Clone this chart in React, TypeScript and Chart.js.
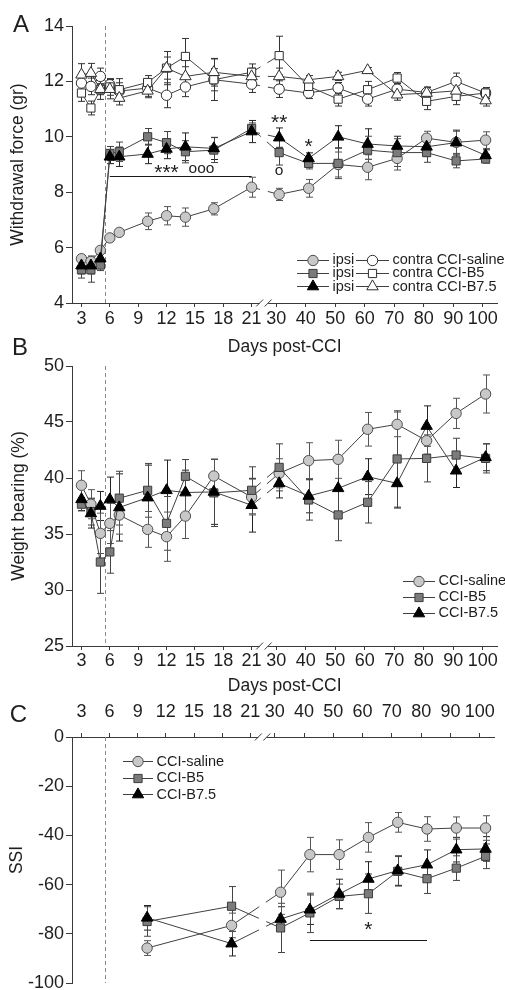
import React, { useEffect, useRef } from 'react';
import { Chart, registerables } from 'chart.js';

Chart.register(...registerables);

const FONT = "'Liberation Sans', Arial, Helvetica, sans-serif";
const TEXT = '#1e1e1e';
const AXIS = '#3a3a3a';
const LINE = '#404040';

// ---------------- data ----------------
const DAYS_AB = [3, 4, 5, 6, 7, 10, 12, 14, 17, 21, 31, 41, 51, 61, 71, 81, 91, 101];
const DAYS_C = [10, 19, 32, 42, 52, 62, 72, 82, 92, 102];
const TICK_DAYS = [3, 6, 9, 12, 15, 18, 21, 30, 40, 50, 60, 70, 80, 90, 100];
const CCI_DAY = 5.5;

// Panel A: withdrawal force (gr)
const A_IPSI_SALINE = [5.6, 5.5, 5.9, 6.35, 6.55, 6.95, 7.15, 7.1, 7.4, 8.18, 7.92, 8.14, 9.0, 8.9, 9.22, 9.95, 9.8, 9.88];
const A_IPSI_SALINE_ERR = [0.12, 0.2, 0.12, 0.12, 0.1, 0.3, 0.33, 0.33, 0.22, 0.36, 0.22, 0.32, 0.45, 0.45, 0.42, 0.25, 0.4, 0.3];
const A_IPSI_B5 = [5.2, 5.2, 5.37, 9.4, 9.46, 10.0, 9.79, 9.46, 9.52, 10.3, 9.43, 9.04, 9.04, 9.52, 9.43, 9.43, 9.13, 9.2];
const A_IPSI_B5_ERR = [0.3, 0.45, 0.2, 0.25, 0.35, 0.3, 0.4, 0.4, 0.45, 0.2, 0.45, 0.2, 0.55, 0.5, 0.5, 0.35, 0.25, 0.15];
const A_IPSI_B75 = [5.35, 5.35, 5.6, 9.28, 9.28, 9.38, 9.56, 9.64, 9.58, 10.19, 9.97, 9.22, 10.0, 9.74, 9.67, 9.64, 9.79, 9.33];
const A_IPSI_B75_ERR = [0.3, 0.3, 0.3, 0.25, 0.35, 0.35, 0.35, 0.5, 0.4, 0.4, 0.35, 0.2, 0.4, 0.55, 0.35, 0.35, 0.45, 0.2];
const A_CONTRA_SALINE = [11.94, 11.82, 12.18, 11.88, 11.65, 11.76, 11.5, 11.8, 12.06, 11.9, 11.72, 11.58, 11.76, 11.36, 11.72, 11.6, 12.0, 11.58];
const A_CONTRA_SALINE_ERR = [0.3, 0.3, 0.3, 0.2, 0.3, 0.3, 0.45, 0.35, 0.4, 0.3, 0.3, 0.2, 0.2, 0.25, 0.2, 0.2, 0.3, 0.2];
const A_CONTRA_B5 = [11.58, 11.04, 11.7, 11.8, 11.7, 11.96, 12.48, 12.9, 12.06, 12.33, 12.93, 11.82, 11.36, 11.7, 12.12, 11.28, 11.46, 11.58];
const A_CONTRA_B5_ERR = [0.3, 0.25, 0.35, 0.3, 0.4, 0.25, 0.4, 0.65, 0.75, 0.3, 0.7, 0.2, 0.25, 0.3, 0.2, 0.3, 0.3, 0.1];
const A_CONTRA_B75 = [12.24, 12.3, 11.72, 11.72, 11.4, 11.66, 12.48, 12.18, 12.33, 12.18, 12.18, 12.06, 12.18, 12.4, 11.52, 11.58, 11.66, 11.31];
const A_CONTRA_B75_ERR = [0.4, 0.35, 0.2, 0.35, 0.25, 0.25, 0.6, 0.35, 0.5, 0.3, 0.3, 0.15, 0.15, 0.1, 0.2, 0.2, 0.2, 0.2];

// Panel B: weight bearing (%)
const B_SALINE = [39.35, 37.66, 35.06, 35.95, 36.69, 35.41, 34.76, 36.6, 40.18, 38.3, 40.42, 41.55, 41.67, 44.35, 44.79, 43.33, 45.77, 47.5];
const B_SALINE_ERR = [1.3, 1.3, 1.8, 1.8, 1.7, 1.6, 2.2, 2.0, 1.5, 1.6, 1.3, 1.6, 1.7, 1.5, 1.1, 1.2, 1.35, 1.7];
const B_B5 = [37.66, 37.0, 32.5, 33.4, 38.2, 38.9, 35.95, 40.15, 38.67, 38.9, 40.95, 38.04, 36.7, 37.83, 41.7, 41.75, 42.05, 41.75];
const B_B5_ERR = [0.6, 1.2, 2.8, 1.9, 2.4, 2.4, 2.4, 1.5, 3.0, 2.1, 2.1, 1.8, 2.3, 1.85, 4.3, 2.1, 1.5, 1.3];
const B_B75 = [38.1, 36.83, 37.5, 38.08, 37.37, 38.25, 38.9, 38.7, 38.76, 37.57, 39.52, 38.39, 39.08, 40.12, 39.52, 44.64, 40.65, 41.85];
const B_B75_ERR = [1.0, 1.3, 1.3, 2.0, 3.0, 2.9, 2.7, 2.0, 2.9, 2.4, 1.3, 1.5, 2.5, 1.6, 2.2, 1.8, 1.5, 1.2];

// Panel C: SSI
const C_SALINE = [-85.8, -76.6, -63.1, -47.8, -47.8, -40.8, -34.7, -37.4, -37.0, -37.0];
const C_SALINE_ERR = [3, 5, 9, 7, 6, 6, 4, 5, 4.5, 5];
const C_B5 = [-75, -68.8, -77.6, -71.5, -64.8, -63.7, -54.6, -57.6, -53.3, -48.5];
const C_B5_ERR = [6, 8, 10, 8, 5, 8, 6, 6, 5, 5];
const C_B75 = [-73.5, -84, -74, -70.2, -63.8, -57.7, -54.3, -51.9, -45.8, -45.5];
const C_B75_ERR = [5, 5, 5, 6, 6, 7, 6, 6, 5, 5];

// ---------------- broken x axis mapping ----------------
const BREAK_MID = 22.3;
function xPos(d: number): number {
  return d <= BREAK_MID ? d : 23.6 + (d - 30) * 0.312;
}

// ---------------- styles ----------------
type Shape = 'circle' | 'rect' | 'triangle';
type MStyle = { shape: Shape; r: number; fill: string; stroke: string; err: string };
const S_SALINE: MStyle = { shape: 'circle', r: 5.2, fill: '#c8c8c8', stroke: '#4e4e4e', err: '#555' };
const S_B5: MStyle = { shape: 'rect', r: 5.8, fill: '#7b7b7b', stroke: '#3c3c3c', err: '#444' };
const S_B75: MStyle = { shape: 'triangle', r: 6.6, fill: '#000000', stroke: '#000000', err: '#222' };
const S_SALINE_C: MStyle = { shape: 'circle', r: 5.2, fill: '#ffffff', stroke: '#2e2e2e', err: '#333' };
const S_B5_C: MStyle = { shape: 'rect', r: 5.8, fill: '#ffffff', stroke: '#2e2e2e', err: '#333' };
const S_B75_C: MStyle = { shape: 'triangle', r: 6.6, fill: '#ffffff', stroke: '#2e2e2e', err: '#333' };

type Series = { label: string; days: number[]; values: number[]; errors: number[]; style: MStyle };
type Note =
  | { kind: 'text'; text: string; day: number; value: number; size: number }
  | { kind: 'line'; day0: number; day1: number; value: number };
type LegendItem = { style: MStyle; label: string; x0: number; x1: number; y: number };

type Panel = {
  top: number;
  height: number;
  padTop: number;
  padBottom: number;
  xSide: 'top' | 'bottom';
  xHeight: number;
  xTickPad: number;
  xTitle: string | null;
  xTitlePad: number;
  yMin: number;
  yMax: number;
  yStep: number;
  yTitle: string;
  yTitlePad: number;
  letter: string;
  letterX: number;
  letterY: number;
  series: Series[];
  legend: LegendItem[];
  notes: Note[];
};

const legendRows = (items: [MStyle, string][], x0: number, x1: number, y0: number, dy: number): LegendItem[] =>
  items.map(([style, label], i) => ({ style, label, x0, x1, y: y0 + i * dy }));

const PANEL_A: Panel = {
  top: 0, height: 362, padTop: 26, padBottom: 0,
  xSide: 'bottom', xHeight: 59, xTickPad: 1, xTitle: 'Days post-CCI', xTitlePad: 4,
  yMin: 4, yMax: 14, yStep: 2, yTitle: 'Withdrawal force (gr)', yTitlePad: 8,
  letter: 'A', letterX: 21, letterY: 23.5,
  series: [
    { label: 'ipsi CCI-B7.5', days: DAYS_AB, values: A_IPSI_B75, errors: A_IPSI_B75_ERR, style: S_B75 },
    { label: 'ipsi CCI-B5', days: DAYS_AB, values: A_IPSI_B5, errors: A_IPSI_B5_ERR, style: S_B5 },
    { label: 'ipsi CCI-saline', days: DAYS_AB, values: A_IPSI_SALINE, errors: A_IPSI_SALINE_ERR, style: S_SALINE },
    { label: 'contra CCI-B7.5', days: DAYS_AB, values: A_CONTRA_B75, errors: A_CONTRA_B75_ERR, style: S_B75_C },
    { label: 'contra CCI-B5', days: DAYS_AB, values: A_CONTRA_B5, errors: A_CONTRA_B5_ERR, style: S_B5_C },
    { label: 'contra CCI-saline', days: DAYS_AB, values: A_CONTRA_SALINE, errors: A_CONTRA_SALINE_ERR, style: S_SALINE_C },
  ],
  legend: [
    ...legendRows([[S_SALINE, 'ipsi'], [S_B5, 'ipsi'], [S_B75, 'ipsi']], 297, 329, 259.5, 13.4),
    ...legendRows([[S_SALINE_C, 'contra CCI-saline'], [S_B5_C, 'contra CCI-B5'], [S_B75_C, 'contra CCI-B7.5']], 356, 389, 259.5, 13.4),
  ],
  notes: [
    { kind: 'line', day0: 6, day1: 21, value: 8.6 },
    { kind: 'text', text: '***', day: 12, value: 8.82, size: 21 },
    { kind: 'text', text: 'ooo', day: 15.7, value: 8.82, size: 15.5 },
    { kind: 'text', text: '**', day: 31, value: 10.66, size: 21 },
    { kind: 'text', text: 'o', day: 31, value: 8.78, size: 15.5 },
    { kind: 'text', text: '*', day: 41, value: 9.79, size: 21 },
  ],
};

const PANEL_B: Panel = {
  top: 336, height: 364, padTop: 30, padBottom: 0,
  xSide: 'bottom', xHeight: 54, xTickPad: 0, xTitle: 'Days post-CCI', xTitlePad: 3,
  yMin: 25, yMax: 50, yStep: 5, yTitle: 'Weight bearing (%)', yTitlePad: 9,
  letter: 'B', letterX: 20, letterY: 10.5,
  series: [
    { label: 'CCI-B7.5', days: DAYS_AB, values: B_B75, errors: B_B75_ERR, style: S_B75 },
    { label: 'CCI-B5', days: DAYS_AB, values: B_B5, errors: B_B5_ERR, style: S_B5 },
    { label: 'CCI-saline', days: DAYS_AB, values: B_SALINE, errors: B_SALINE_ERR, style: S_SALINE },
  ],
  legend: legendRows([[S_SALINE, 'CCI-saline'], [S_B5, 'CCI-B5'], [S_B75, 'CCI-B7.5']], 403, 435, 244.7, 16),
  notes: [],
};

const PANEL_C: Panel = {
  top: 690, height: 310, padTop: 0, padBottom: 17,
  xSide: 'top', xHeight: 47, xTickPad: 10, xTitle: null, xTitlePad: 0,
  yMin: -100, yMax: 0, yStep: 20, yTitle: 'SSI', yTitlePad: 7,
  letter: 'C', letterX: 18.5, letterY: 23.5,
  series: [
    { label: 'CCI-B7.5', days: DAYS_C, values: C_B75, errors: C_B75_ERR, style: S_B75 },
    { label: 'CCI-B5', days: DAYS_C, values: C_B5, errors: C_B5_ERR, style: S_B5 },
    { label: 'CCI-saline', days: DAYS_C, values: C_SALINE, errors: C_SALINE_ERR, style: S_SALINE },
  ],
  legend: legendRows([[S_SALINE, 'CCI-saline'], [S_B5, 'CCI-B5'], [S_B75, 'CCI-B7.5']], 123, 153, 71, 16.6),
  notes: [
    { kind: 'line', day0: 42, day1: 82, value: -82.5 },
    { kind: 'text', text: '*', day: 62, value: -76.8, size: 21 },
  ],
};

// ---------------- drawing helpers ----------------
function drawMarker(ctx: CanvasRenderingContext2D, s: MStyle, x: number, y: number) {
  ctx.save();
  ctx.beginPath();
  if (s.shape === 'circle') {
    ctx.arc(x, y, s.r, 0, Math.PI * 2);
  } else if (s.shape === 'rect') {
    const h = s.r * Math.SQRT1_2;
    ctx.rect(x - h, y - h, 2 * h, 2 * h);
  } else {
    const r = s.r;
    ctx.moveTo(x, y - r);
    ctx.lineTo(x + r * 0.866, y + r * 0.5);
    ctx.lineTo(x - r * 0.866, y + r * 0.5);
    ctx.closePath();
  }
  ctx.fillStyle = s.fill;
  ctx.strokeStyle = s.stroke;
  ctx.lineWidth = 1;
  ctx.fill();
  ctx.stroke();
  ctx.restore();
}

function drawCentered(ctx: CanvasRenderingContext2D, text: string, x: number, y: number, size: number) {
  ctx.save();
  ctx.font = `${size}px ${FONT}`;
  ctx.fillStyle = TEXT;
  ctx.textAlign = 'center';
  ctx.textBaseline = 'alphabetic';
  const m = ctx.measureText(text);
  const asc = m.actualBoundingBoxAscent || size * 0.7;
  const desc = m.actualBoundingBoxDescent || 0;
  ctx.fillText(text, x, y + (asc - desc) / 2);
  ctx.restore();
}

function breakDash(ctx: any, days: number[]) {
  const i = ctx.p0DataIndex;
  if (!(days[i] <= 21 && days[i + 1] >= 30)) return undefined;
  const p0 = ctx.p0;
  const p1 = ctx.p1;
  const bx = ctx.chart.scales.x.getPixelForValue(BREAK_MID);
  const dx = p1.x - p0.x;
  const L = Math.hypot(dx, p1.y - p0.y);
  const t = dx !== 0 ? (bx - p0.x) / dx : 0.5;
  const gap = 8;
  const a = Math.max(1, t * L - gap / 2);
  return [a, gap, L + 20];
}

function decoPlugin(p: Panel) {
  return {
    id: 'deco' + p.letter,
    beforeDatasetsDraw(chart: any) {
      const { ctx, chartArea } = chart;
      const xs = chart.scales.x;
      const ys = chart.scales.y;
      // CCI surgery marker
      const cx = Math.round(xs.getPixelForValue(xPos(CCI_DAY))) + 0.5;
      ctx.save();
      ctx.strokeStyle = '#8a8a8a';
      ctx.lineWidth = 1;
      ctx.setLineDash([4, 3]);
      ctx.beginPath();
      ctx.moveTo(cx, chartArea.top);
      ctx.lineTo(cx, chartArea.bottom);
      ctx.stroke();
      ctx.restore();
      // error bars
      chart.data.datasets.forEach((_ds: any, di: number) => {
        const meta = chart.getDatasetMeta(di);
        const s: Series = p.series[di];
        ctx.save();
        ctx.strokeStyle = s.style.err;
        ctx.lineWidth = 1;
        meta.data.forEach((pt: any, i: number) => {
          const v = s.values[i];
          const e = s.errors[i];
          const x = Math.round(pt.x) + 0.5;
          const yt = ys.getPixelForValue(v + e);
          const yb = ys.getPixelForValue(v - e);
          ctx.beginPath();
          ctx.moveTo(x, yt);
          ctx.lineTo(x, yb);
          ctx.moveTo(x - 3.5, yt);
          ctx.lineTo(x + 3.5, yt);
          ctx.moveTo(x - 3.5, yb);
          ctx.lineTo(x + 3.5, yb);
          ctx.stroke();
        });
        ctx.restore();
      });
    },
    afterDraw(chart: any) {
      const { ctx, chartArea } = chart;
      const xs = chart.scales.x;
      const ys = chart.scales.y;
      // axis break marks
      const axisY = p.xSide === 'bottom' ? chartArea.bottom : chartArea.top;
      const b1 = xs.getPixelForValue(21.85);
      const b2 = xs.getPixelForValue(22.75);
      ctx.save();
      ctx.fillStyle = '#ffffff';
      ctx.fillRect(b1, axisY - 1.5, b2 - b1, 3);
      ctx.strokeStyle = AXIS;
      ctx.lineWidth = 1;
      [b1, b2].forEach((bx) => {
        ctx.beginPath();
        ctx.moveTo(bx - 3.5, axisY + 3.5);
        ctx.lineTo(bx + 3.5, axisY - 3.5);
        ctx.stroke();
      });
      ctx.restore();
      // significance notes
      p.notes.forEach((n) => {
        if (n.kind === 'line') {
          const y = Math.round(ys.getPixelForValue(n.value)) + 0.5;
          ctx.save();
          ctx.strokeStyle = '#1a1a1a';
          ctx.lineWidth = 1;
          ctx.beginPath();
          ctx.moveTo(xs.getPixelForValue(xPos(n.day0)), y);
          ctx.lineTo(xs.getPixelForValue(xPos(n.day1)), y);
          ctx.stroke();
          ctx.restore();
        } else {
          drawCentered(ctx, n.text, xs.getPixelForValue(xPos(n.day)), ys.getPixelForValue(n.value), n.size);
        }
      });
      // panel letter
      drawCentered(ctx, p.letter, p.letterX, p.letterY, 24);
      // legend
      p.legend.forEach((it) => {
        ctx.save();
        ctx.strokeStyle = LINE;
        ctx.lineWidth = 1;
        ctx.beginPath();
        ctx.moveTo(it.x0, Math.round(it.y) + 0.5);
        ctx.lineTo(it.x1, Math.round(it.y) + 0.5);
        ctx.stroke();
        ctx.restore();
        drawMarker(ctx, it.style, (it.x0 + it.x1) / 2, Math.round(it.y) + 0.5);
        ctx.save();
        ctx.font = `14.5px ${FONT}`;
        ctx.fillStyle = TEXT;
        ctx.textAlign = 'left';
        ctx.textBaseline = 'middle';
        ctx.fillText(it.label, it.x1 + 3.5, it.y + 0.5);
        ctx.restore();
      });
    },
  };
}

function buildConfig(p: Panel): any {
  const tickFont = { family: FONT, size: 18 };
  return {
    type: 'line',
    data: {
      datasets: p.series.map((s) => ({
        label: s.label,
        data: s.days.map((d, i) => ({ x: xPos(d), y: s.values[i] })),
        borderColor: LINE,
        borderWidth: 1,
        tension: 0,
        fill: false,
        pointStyle: s.style.shape,
        pointRadius: s.style.r,
        pointHoverRadius: s.style.r,
        pointBackgroundColor: s.style.fill,
        pointBorderColor: s.style.stroke,
        pointBorderWidth: 1,
        clip: false,
        segment: { borderDash: (ctx: any) => breakDash(ctx, s.days) },
      })),
    },
    options: {
      responsive: false,
      animation: false,
      devicePixelRatio: 1,
      events: [],
      layout: { padding: { top: p.padTop, bottom: p.padBottom, left: 0, right: 0 } },
      scales: {
        x: {
          type: 'linear',
          position: p.xSide,
          min: 2,
          max: 47,
          afterFit: (sc: any) => {
            sc.height = p.xHeight;
          },
          afterBuildTicks: (sc: any) => {
            sc.ticks = TICK_DAYS.map((d) => ({ value: xPos(d) }));
          },
          ticks: {
            callback: (_v: any, i: number) => String(TICK_DAYS[i]),
            autoSkip: false,
            maxRotation: 0,
            minRotation: 0,
            padding: p.xTickPad,
            color: TEXT,
            font: tickFont,
          },
          grid: { display: true, drawOnChartArea: false, drawTicks: true, tickLength: 4, color: AXIS },
          border: { display: true, color: AXIS, width: 1 },
          title: p.xTitle
            ? { display: true, text: p.xTitle, color: TEXT, font: { family: FONT, size: 17.5 }, padding: { top: 0, bottom: p.xTitlePad } }
            : { display: false },
        },
        y: {
          type: 'linear',
          min: p.yMin,
          max: p.yMax,
          afterFit: (sc: any) => {
            sc.width = 72;
          },
          ticks: { stepSize: p.yStep, padding: 2, color: TEXT, font: tickFont },
          grid: { display: true, drawOnChartArea: false, drawTicks: true, tickLength: 6, color: AXIS },
          border: { display: true, color: AXIS, width: 1 },
          title: {
            display: true,
            text: p.yTitle,
            color: TEXT,
            font: { family: FONT, size: 17.5 },
            padding: { top: p.yTitlePad, bottom: 0 },
          },
        },
      },
      plugins: { legend: { display: false }, tooltip: { enabled: false } },
    },
    plugins: [decoPlugin(p)],
  };
}

function PanelChart({ panel }: { panel: Panel }) {
  const ref = useRef<HTMLCanvasElement | null>(null);
  useEffect(() => {
    if (!ref.current) return;
    const chart = new Chart(ref.current, buildConfig(panel));
    return () => chart.destroy();
  }, [panel]);
  return (
    <canvas
      ref={ref}
      width={505}
      height={panel.height}
      style={{ position: 'absolute', left: 0, top: panel.top, width: 505, height: panel.height }}
    />
  );
}

export default function App() {
  return (
    <div
      style={{
        position: 'fixed',
        left: 0,
        top: 0,
        width: 505,
        height: 990,
        overflow: 'hidden',
        background: '#ffffff',
      }}
    >
      <PanelChart panel={PANEL_A} />
      <PanelChart panel={PANEL_B} />
      <PanelChart panel={PANEL_C} />
    </div>
  );
}
